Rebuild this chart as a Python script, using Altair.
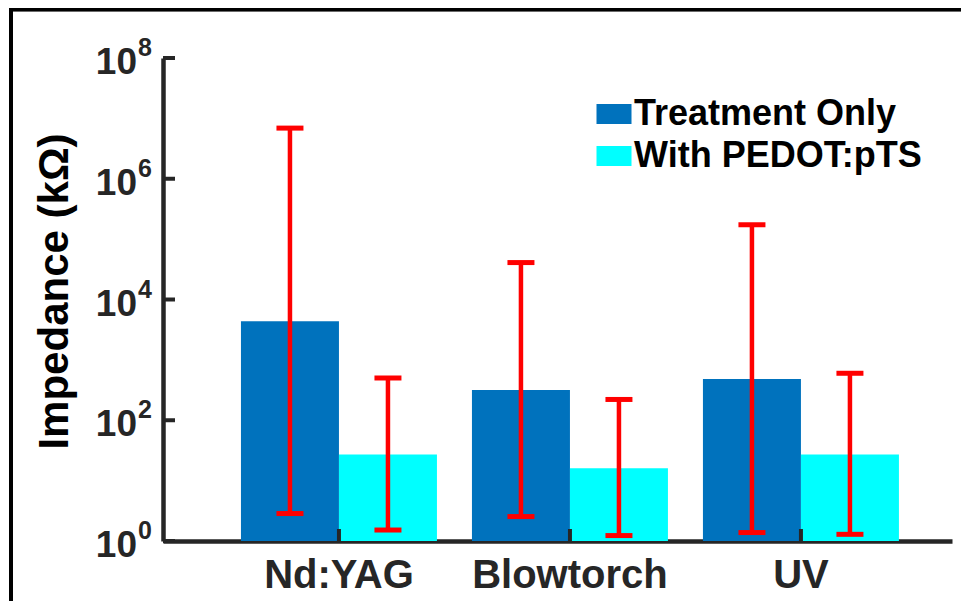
import altair as alt
import pandas as pd

categories = ["Nd:YAG", "Blowtorch", "UV"]
series = ["Treatment Only", "With PEDOT:pTS"]
colors = ["#0072BD", "#00FFFF"]

treatment_mean = [4350, 316, 482]
treatment_hi = [6.9e6, 40900, 173000]
treatment_lo = [2.85, 2.54, 1.38]
pedot_mean = [27.1, 16.0, 27.1]
pedot_hi = [501, 221, 600]
pedot_lo = [1.52, 1.23, 1.29]

tick_values = [1, 100, 1e4, 1e6, 1e8]
tick_exps = ["0", "2", "4", "6", "8"]

rows = []
for i, c in enumerate(categories):
    rows.append(dict(category=c, series=series[0], mean=treatment_mean[i],
                     lo=treatment_lo[i], hi=treatment_hi[i]))
    rows.append(dict(category=c, series=series[1], mean=pedot_mean[i],
                     lo=pedot_lo[i], hi=pedot_hi[i]))
df = pd.DataFrame(rows)
ticks_df = pd.DataFrame({"v": tick_values, "e": tick_exps})
cat_df = pd.DataFrame({"category": categories})

W, H = 789, 483
FONT = "Liberation Sans"
AX = "#262626"

xscale = alt.Scale(domain=categories, paddingInner=0.1515, paddingOuter=0.2836, align=0.595)
yscale = alt.Scale(type="log", domain=[1, 1e8], nice=False, clamp=True)

x_enc = alt.X("category:N", sort=categories, scale=xscale,
              axis=alt.Axis(title=None, labelFont=FONT, labelFontSize=40, labelFontWeight="bold",
                            labelColor=AX, labelAngle=0, ticks=False, labelPadding=14,
                            labelLimit=0, domainColor=AX, domainWidth=4.5, grid=False))
xo_enc = alt.XOffset("series:N", sort=series, scale=alt.Scale(domain=series, paddingInner=0, paddingOuter=0))

bars = alt.Chart(df).mark_bar(opacity=1).encode(
    x=x_enc,
    xOffset=xo_enc,
    y=alt.Y("mean:Q", scale=yscale,
            axis=alt.Axis(title="Impedance (kΩ)", labels=False, ticks=False, grid=False,
                          domainColor=AX, domainWidth=4.5,
                          titleFont=FONT, titleFontSize=42, titleFontWeight="bold", titleColor="#000000",
                          titleAngle=270, titleX=-109, titleY=233, titleAlign="center",
                          titleBaseline="middle", titleLimit=0)),
    y2=alt.datum(1),
    color=alt.Color("series:N", sort=series, scale=alt.Scale(domain=series, range=colors),
                    legend=alt.Legend(title=None, orient="none", legendX=433, legendY=38,
                                      labelFont=FONT, labelFontSize=36, labelFontWeight="bold",
                                      labelColor="#000000", symbolType="M-1,-0.571H1V0.571H-1Z",
                                      symbolSize=1225, symbolStrokeWidth=0, symbolOpacity=1,
                                      rowPadding=6, labelOffset=2, padding=0, labelLimit=0)),
)

err = alt.Chart(df).mark_rule(color="#FF0000", strokeWidth=4.5).encode(
    x=alt.X("category:N", sort=categories, scale=xscale),
    xOffset=xo_enc,
    y=alt.Y("lo:Q", scale=yscale),
    y2="hi:Q",
)
cap_hi = alt.Chart(df).mark_tick(color="#FF0000", size=27, thickness=5, opacity=1).encode(
    x=alt.X("category:N", sort=categories, scale=xscale),
    xOffset=xo_enc,
    y=alt.Y("hi:Q", scale=yscale),
)
cap_lo = alt.Chart(df).mark_tick(color="#FF0000", size=27, thickness=5, opacity=1).encode(
    x=alt.X("category:N", sort=categories, scale=xscale),
    xOffset=xo_enc,
    y=alt.Y("lo:Q", scale=yscale),
)

yticks = alt.Chart(ticks_df).mark_rule(color=AX, strokeWidth=4).encode(
    y=alt.Y("v:Q", scale=yscale), x=alt.value(0), x2=alt.value(12))
xticks = alt.Chart(cat_df).mark_rule(color=AX, strokeWidth=4).encode(
    x=alt.X("category:N", sort=categories, scale=xscale), y=alt.value(H - 12), y2=alt.value(H))

ylab10 = alt.Chart(ticks_df).mark_text(font=FONT, fontSize=37, fontWeight="bold", color=AX,
                                       align="right", baseline="alphabetic", dy=16).encode(
    y=alt.Y("v:Q", scale=yscale), x=alt.value(-26), text=alt.value("10"))
ylabexp = alt.Chart(ticks_df).mark_text(font=FONT, fontSize=25, fontWeight="bold", color=AX,
                                        align="left", baseline="alphabetic", dy=-2).encode(
    y=alt.Y("v:Q", scale=yscale), x=alt.value(-25), text="e:N")

border_left = alt.Chart(cat_df).mark_rule(color="#000000", strokeWidth=4).encode(
    x=alt.value(-152), y=alt.value(-50), y2=alt.value(H + 60))
border_top = alt.Chart(cat_df).mark_rule(color="#000000", strokeWidth=3.5).encode(
    y=alt.value(-48.5), x=alt.value(-154), x2=alt.value(W + 9))

chart = alt.layer(bars, err, cap_hi, cap_lo, yticks, xticks, ylab10, ylabexp,
                  border_left, border_top).properties(
    width=W, height=H,
    autosize=alt.AutoSizeParams(type="none"),
    padding={"left": 155, "top": 50, "right": 9, "bottom": 60},
    background="white",
).configure_view(stroke=None)

chart.save("out.html", embed_options={"renderer": "svg", "actions": False})
